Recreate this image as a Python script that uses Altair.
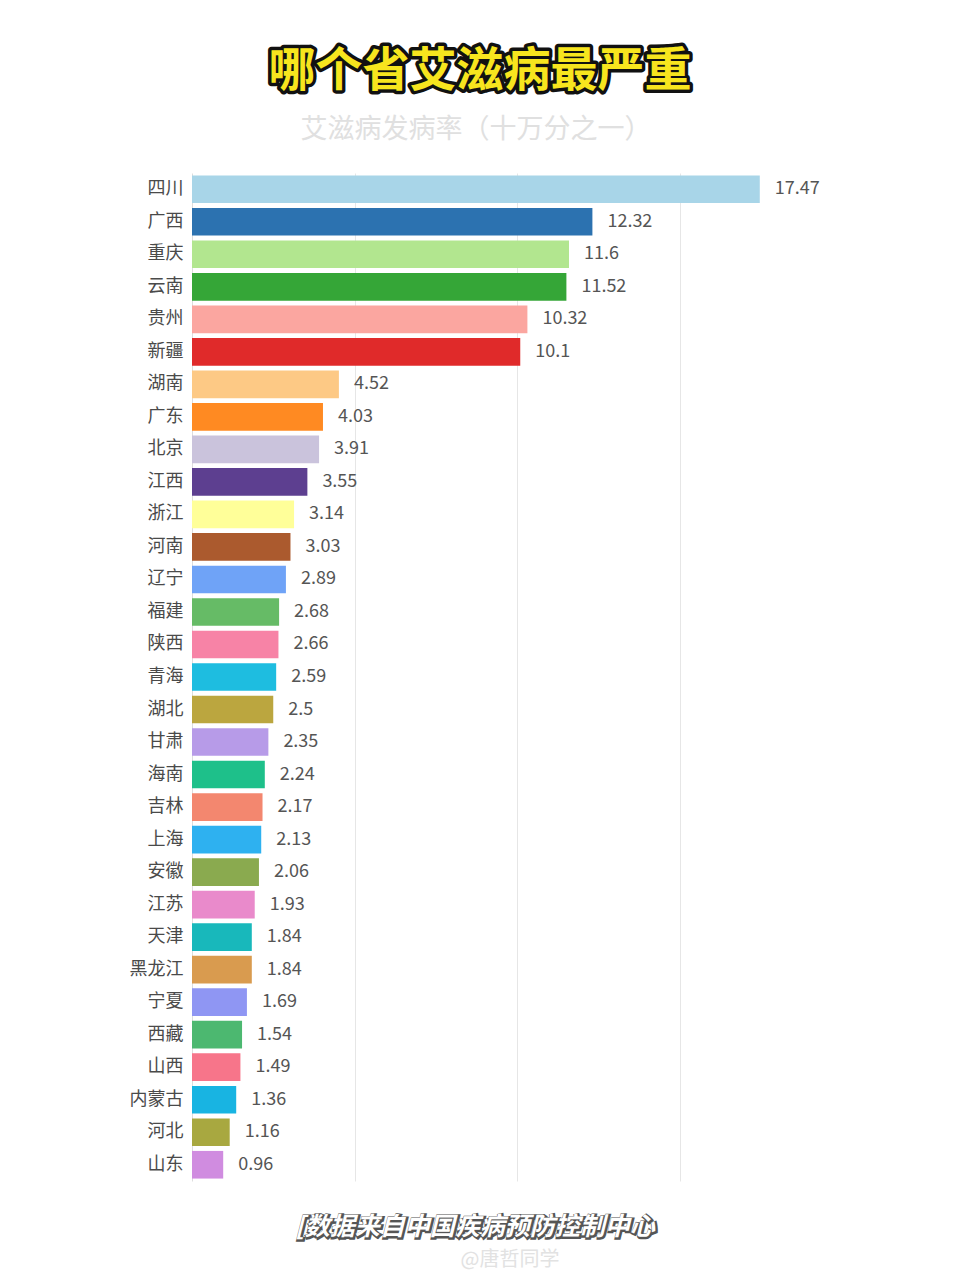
import altair as alt
import pandas as pd

provinces = ["四川", "广西", "重庆", "云南", "贵州", "新疆", "湖南", "广东", "北京", "江西",
             "浙江", "河南", "辽宁", "福建", "陕西", "青海", "湖北", "甘肃", "海南", "吉林",
             "上海", "安徽", "江苏", "天津", "黑龙江", "宁夏", "西藏", "山西", "内蒙古", "河北", "山东"]
values = [17.47, 12.32, 11.6, 11.52, 10.32, 10.1, 4.52, 4.03, 3.91, 3.55,
          3.14, 3.03, 2.89, 2.68, 2.66, 2.59, 2.5, 2.35, 2.24, 2.17,
          2.13, 2.06, 1.93, 1.84, 1.84, 1.69, 1.54, 1.49, 1.36, 1.16, 0.96]
colors = ["#a8d5e8", "#2c72b0", "#b2e68f", "#35a637", "#fba6a0", "#e02a2a", "#fdc985", "#ff8a22",
          "#cac3dc", "#5d3f90", "#ffff99", "#ab5a2e", "#6fa3f7", "#66bb66", "#f783a6", "#1ebde0",
          "#bba63f", "#b79be8", "#1ec08a", "#f3876f", "#2eb1f0", "#8aaa4f", "#e98acb", "#18b8bb",
          "#d99b4f", "#8f96f3", "#4cb870", "#f7758a", "#18b4e2", "#a8a840", "#d08ce0"]

title_text = "哪个省艾滋病最严重"
subtitle_text = "艾滋病发病率（十万分之一）"
footer_text = "[数据来自中国疾病预防控制中心"
watermark_text = "@唐哲同学"

df = pd.DataFrame({"province": provinces, "value": values,
                   "label": [str(v) for v in values]})

FONT = "Noto Sans CJK SC"

y_enc = alt.Y("province:N", sort=provinces, title=None,
              scale=alt.Scale(paddingInner=0.15, paddingOuter=0.075),
              axis=alt.Axis(labelFontSize=18, labelColor="#4a4a4a", labelFont=FONT,
                            labelPadding=9, ticks=False, domainColor="#dddddd",
                            domainWidth=1, grid=False))
x_enc = alt.X("value:Q", title=None,
              scale=alt.Scale(domain=[0, 20], nice=False),
              axis=alt.Axis(values=[5, 10, 15], labels=False, ticks=False, domain=False,
                            grid=True, gridColor="#e6e6e6", gridWidth=1))

bars = alt.Chart(df).mark_bar().encode(
    x=x_enc, y=y_enc,
    color=alt.Color("province:N", scale=alt.Scale(domain=provinces, range=colors), legend=None),
)
labels = alt.Chart(df).mark_text(align="left", baseline="middle", dx=15, fontSize=18,
                                 font=FONT, color="#555555").encode(
    x="value:Q", y=alt.Y("province:N", sort=provinces), text="label:N")

def txt(s, x, y, **kw):
    return alt.Chart(pd.DataFrame({"t": [s]})).mark_text(**kw).encode(
        text="t:N", x=alt.value(x), y=alt.value(y))

title_bg = txt(title_text, 288, -101, fontSize=47, font=FONT, fontWeight="bold",
               align="center", baseline="middle", fill="#111111", stroke="#111111",
               strokeWidth=7, strokeJoin="round")
title_fg = txt(title_text, 288, -101, fontSize=47, font=FONT, fontWeight="bold",
               align="center", baseline="middle", fill="#f7e51e")
subtitle = txt(subtitle_text, 284, -43, fontSize=27, font=FONT, align="center",
               baseline="middle", fill="#e0e0e0")
footer_bg = txt(footer_text, 283, 1054, fontSize=25, font=FONT, fontWeight="bold",
                fontStyle="italic", align="center", baseline="middle", fill="#555555",
                stroke="#555555", strokeWidth=3, dx=1, dy=1)
footer_fg = txt(footer_text, 283, 1054, fontSize=25, font=FONT, fontWeight="bold",
                fontStyle="italic", align="center", baseline="middle", fill="#ffffff")
watermark = txt(watermark_text, 318, 1087, fontSize=20, font=FONT, align="center",
                baseline="middle", fill="#e2e2e2")

chart = alt.layer(bars, labels, title_bg, title_fg, subtitle, footer_bg, footer_fg, watermark).properties(
    width=650, height=1008,
    autosize=alt.AutoSizeParams(type="none"),
    padding={"left": 192, "top": 173, "right": 118, "bottom": 99},
    background="white",
).configure_view(stroke=None)

chart.save("out.html", embed_options={"renderer": "svg", "actions": False})
